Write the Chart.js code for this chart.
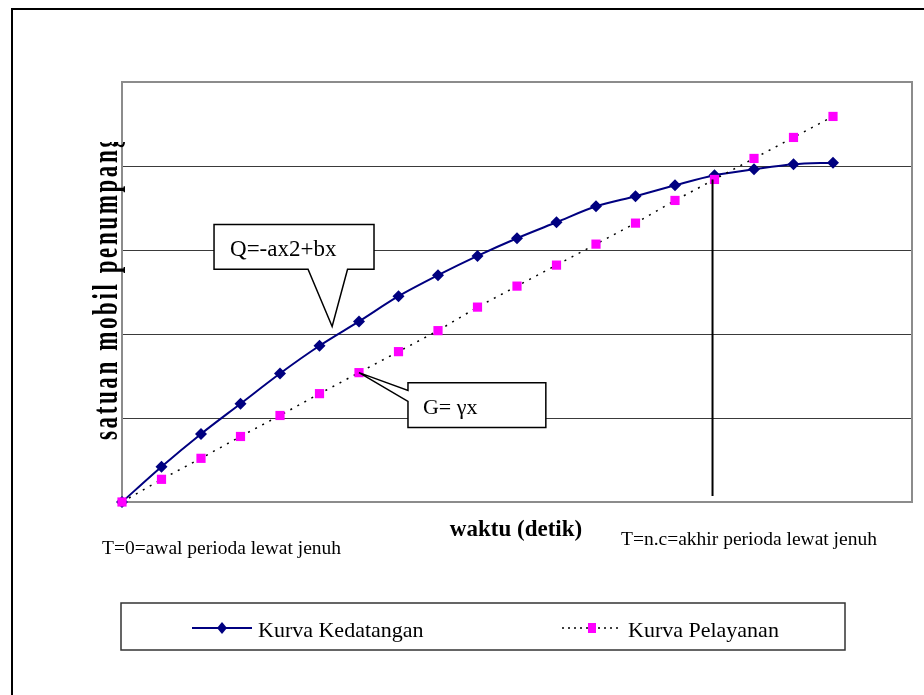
<!DOCTYPE html>
<html>
<head>
<meta charset="utf-8">
<script src="https://cdn.jsdelivr.net/npm/chart.js@4.4.1/dist/chart.umd.min.js"></script>
<style>
  html, body { margin: 0; padding: 0; background: #fff; }
  canvas { display: block; }
</style>
</head>
<body>
<canvas id="chartCanva" width="924" height="695"></canvas>
<script>
// waktu (detik) : posisi titik pada sumbu x
const waktu = [0, 1, 2, 3, 4, 5, 6, 7, 8, 9, 10, 11, 12, 13, 14, 15, 16, 17, 18];
// satuan mobil penumpang
const kurvaKedatangan = [0, 0.42, 0.81, 1.17, 1.53, 1.86, 2.15, 2.45, 2.70, 2.93, 3.14, 3.33, 3.52, 3.64, 3.77, 3.89, 3.96, 4.02, 4.04];
const kurvaPelayanan = [0, 0.27, 0.52, 0.78, 1.03, 1.29, 1.54, 1.79, 2.04, 2.32, 2.57, 2.82, 3.07, 3.32, 3.59, 3.84, 4.09, 4.34, 4.59];
const labelSeri = ["Kurva Kedatangan", "Kurva Pelayanan"];

// garis akhir perioda lewat jenuh (T = n.c)
const batasX = [14.95, 14.95];
const batasY = [3.84, 0.07];

const judulY = "satuan mobil penumpang";
const judulX = "waktu (detik)";
const catatanAwal = "T=0=awal perioda lewat jenuh";
const catatanAkhir = "T=n.c=akhir perioda lewat jenuh";
const rumusQ = "Q=-ax2+bx";
const rumusG = "G= \u03b3x";

const BIRU = "#000080";
const MAGENTA = "#ff00ff";
const SERIF = '"Liberation Serif", "Times New Roman", serif';

const toPoints = (ys) => ys.map((y, i) => ({ x: waktu[i], y: y }));

// gambar kotak callout, bingkai, judul dan legenda
const dekorasi = {
    id: "dekorasi",
    beforeDatasetsDraw(chart) {
        const { ctx, chartArea: a } = chart;
        ctx.save();
        ctx.strokeStyle = "#8c8c8c";
        ctx.lineWidth = 2;
        ctx.strokeRect(a.left, a.top, a.right - a.left, a.bottom - a.top);
        ctx.restore();
    },
    afterDraw(chart) {
        const { ctx } = chart;
        const px = (v) => chart.scales.x.getPixelForValue(v);
        const py = (v) => chart.scales.y.getPixelForValue(v);

        ctx.save();
        // bingkai luar
        ctx.strokeStyle = "#000";
        ctx.lineWidth = 2;
        ctx.beginPath();
        ctx.moveTo(12, 695);
        ctx.lineTo(12, 9);
        ctx.lineTo(924, 9);
        ctx.stroke();

        // callout Q
        ctx.lineWidth = 1.5;
        ctx.fillStyle = "#fff";
        ctx.beginPath();
        ctx.moveTo(px(2.33), py(3.305));
        ctx.lineTo(px(6.38), py(3.305));
        ctx.lineTo(px(6.38), py(2.77));
        ctx.lineTo(px(5.71), py(2.77));
        ctx.lineTo(px(5.32), py(2.09));
        ctx.lineTo(px(4.71), py(2.77));
        ctx.lineTo(px(2.33), py(2.77));
        ctx.closePath();
        ctx.fill();
        ctx.stroke();
        ctx.fillStyle = "#000";
        ctx.font = "23px " + SERIF;
        ctx.textBaseline = "alphabetic";
        ctx.fillText(rumusQ, px(2.33) + 16, py(2.77) - 13);

        // callout G
        ctx.fillStyle = "#fff";
        ctx.beginPath();
        ctx.moveTo(px(7.24), py(1.42));
        ctx.lineTo(px(10.73), py(1.42));
        ctx.lineTo(px(10.73), py(0.886));
        ctx.lineTo(px(7.24), py(0.886));
        ctx.lineTo(px(7.24), py(1.198));
        ctx.lineTo(px(6.0), py(1.54));
        ctx.lineTo(px(7.24), py(1.327));
        ctx.closePath();
        ctx.fill();
        ctx.stroke();
        ctx.fillStyle = "#000";
        ctx.font = "22px " + SERIF;
        ctx.fillText(rumusG, px(7.24) + 15, py(0.886) - 14);

        // judul sumbu x dan catatan
        ctx.font = "bold 23px " + SERIF;
        ctx.textAlign = "center";
        ctx.fillText(judulX, 516, 536);
        ctx.textAlign = "left";
        ctx.font = "19.5px " + SERIF;
        ctx.fillText(catatanAwal, 102, 554);
        ctx.fillText(catatanAkhir, 621, 545);

        // judul sumbu y (terpotong di atas)
        ctx.save();
        ctx.beginPath();
        ctx.rect(0, 142, 300, 400);
        ctx.clip();
        ctx.translate(117, 440);
        ctx.rotate(-Math.PI / 2);
        ctx.scale(1, 1.55);
        ctx.font = "bold 23px " + SERIF;
        ctx.letterSpacing = "2.6px";
        ctx.fillText(judulY, 0, 0);
        ctx.restore();

        // legenda
        ctx.lineWidth = 1.5;
        ctx.strokeStyle = "#333";
        ctx.strokeRect(121, 603, 724, 47);
        const ly = 628;
        ctx.strokeStyle = BIRU;
        ctx.lineWidth = 2;
        ctx.beginPath();
        ctx.moveTo(192, ly);
        ctx.lineTo(252, ly);
        ctx.stroke();
        ctx.fillStyle = BIRU;
        ctx.beginPath();
        ctx.moveTo(222, ly - 6);
        ctx.lineTo(227, ly);
        ctx.lineTo(222, ly + 6);
        ctx.lineTo(217, ly);
        ctx.closePath();
        ctx.fill();
        ctx.strokeStyle = "#000";
        ctx.lineWidth = 1.5;
        ctx.setLineDash([2, 4]);
        ctx.beginPath();
        ctx.moveTo(562, ly);
        ctx.lineTo(622, ly);
        ctx.stroke();
        ctx.setLineDash([]);
        ctx.fillStyle = MAGENTA;
        ctx.fillRect(588, ly - 5, 8, 10);
        ctx.fillStyle = "#000";
        ctx.font = "22px " + SERIF;
        ctx.fillText(labelSeri[0], 258, 637);
        ctx.fillText(labelSeri[1], 628, 637);
        ctx.restore();
    },
};

new Chart(document.getElementById("chartCanva"), {
    type: "line",
    data: {
        datasets: [
            {
                label: labelSeri[0],
                data: toPoints(kurvaKedatangan),
                borderColor: BIRU,
                backgroundColor: BIRU,
                borderWidth: 2,
                tension: 0.3,
                pointStyle: "rectRot",
                pointRadius: 6,
                pointBorderWidth: 0,
                clip: false,
                order: 2,
            },
            {
                label: labelSeri[1],
                data: toPoints(kurvaPelayanan),
                borderColor: "#000",
                backgroundColor: MAGENTA,
                borderWidth: 1.5,
                borderDash: [2, 6],
                tension: 0,
                pointStyle: "rect",
                pointRadius: 6.5,
                pointBorderWidth: 0,
                clip: false,
                order: 1,
            },
            {
                label: "batas",
                data: batasX.map((x, i) => ({ x: x, y: batasY[i] })),
                borderColor: "#000",
                borderWidth: 2,
                pointRadius: 0,
                clip: false,
                order: 0,
            },
        ],
    },
    options: {
        responsive: false,
        animation: false,
        devicePixelRatio: 1,
        layout: { padding: { left: 122, top: 82, right: 12, bottom: 193 } },
        plugins: {
            legend: { display: false },
            tooltip: { enabled: false },
        },
        scales: {
            x: {
                type: "linear",
                min: 0,
                max: 20,
                ticks: { display: false },
                grid: { display: false, drawTicks: false },
                border: { display: false },
            },
            y: {
                min: 0,
                max: 5,
                ticks: { display: false, stepSize: 1 },
                grid: {
                    drawTicks: false,
                    color: (c) => (c.tick && (c.tick.value === 0 || c.tick.value === 5) ? "rgba(0,0,0,0)" : "#3a3a3a"),
                    lineWidth: 1,
                },
                border: { display: false },
            },
        },
    },
    plugins: [dekorasi],
});
</script>
</body>
</html>
